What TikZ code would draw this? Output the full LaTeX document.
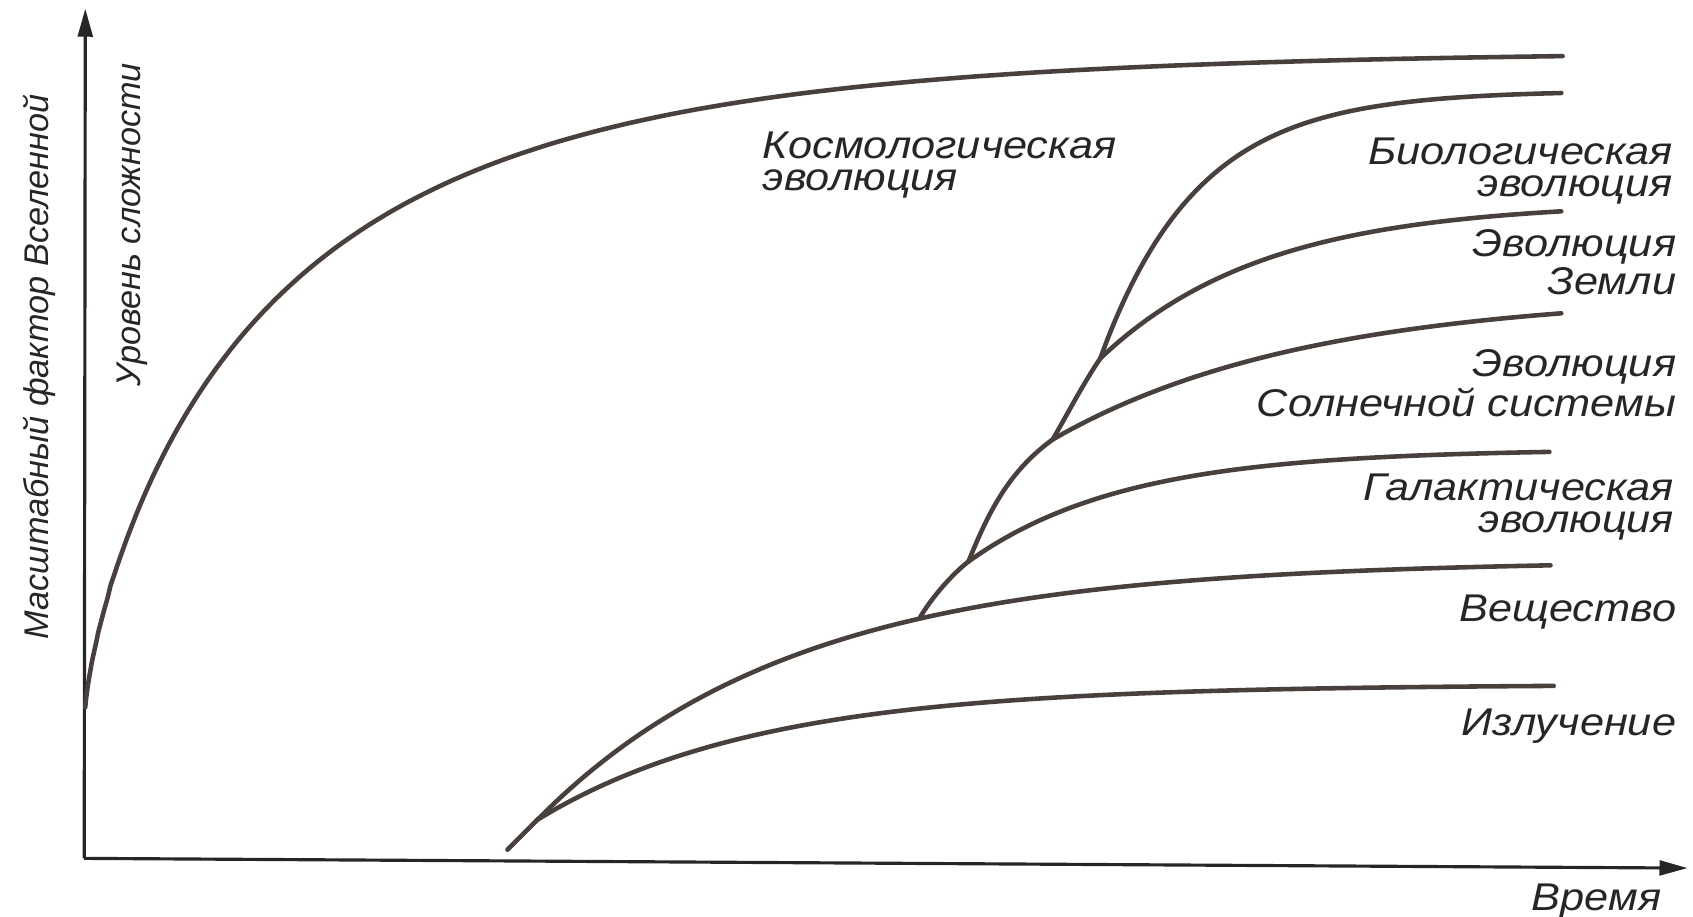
\documentclass[tikz,border=0pt]{standalone}
\usepackage{fontspec}
\setmainfont{Liberation Sans}
\newfontfamily\labelfont{Liberation Sans}[FakeStretch=1.12]
\usetikzlibrary{arrows.meta}

\definecolor{curvegray}{RGB}{72,64,61}
\definecolor{axisgray}{RGB}{40,37,37}

\begin{document}
\begin{tikzpicture}[
    x=0.10797mm, y=-0.10797mm,
    axis/.style={draw=axisgray, line width=0.9pt, -{Triangle[length=8pt, width=4.2pt]}},
    branch/.style={draw=curvegray, line width=1.3pt, line cap=round, line join=round},
    label/.style={font=\labelfont\itshape\fontsize{11}{9}\selectfont, text=black!85, inner sep=0pt},
    axlabel/.style={font=\fontsize{9.75}{12}\selectfont\itshape, text=black!85, inner sep=0pt, rotate=90, anchor=base}
]
\useasboundingbox (0,0) rectangle (1568,849);

% Axes
\coordinate (O) at (78,795);
\coordinate (ytip) at (79,8);
\coordinate (xtip) at (1563,804);
\draw[axis] (O) -- (ytip);
\draw[axis] (O) -- (xtip);

\node[axlabel] (scale_lbl) at (45,340) {Масштабный фактор Вселенной};
\node[axlabel] (level_lbl) at (130,208) {Уровень сложности};
\node[label, anchor=base west] (time_lbl) at (1418,843) {Время};

% Cosmological evolution
\draw[branch] plot[domain=0.05:36.99, samples=140, smooth]
    ({79+\x*\x}, {655-608*(1-exp(-1*pow(\x*\x/182.8,0.78)))});

% Junctions of the tree
\coordinate (s) at (470,787);
\coordinate (jr) at (498,759);
\coordinate (jm) at (852,572);
\coordinate (jg) at (897,520);
\coordinate (js) at (975,407);
\coordinate (je) at (1019,332);

% Trunk
\draw[branch] (s) -- (jr);
\draw[branch] (jm) .. controls (862,554.7) and (881.2,532.3) .. (jg);
\draw[branch] (jg) .. controls (915.7,473.6) and (934.5,436.4) .. (js);
\draw[branch] (js) .. controls (989.5,381.9) and (1002.8,356) .. (je);

% Branches (radiation, matter, galactic, solar, earth, biological)
\draw[branch] plot[domain=0:941, samples=60, smooth] ({498+\x}, {759-125*(1-exp(-\x/205))});
\draw[branch] plot[domain=0:938, samples=60, smooth] ({498+\x}, {759-240*(1-exp(-\x/237))});
\draw[branch] plot[domain=0:538, samples=50, smooth] ({897+\x}, {520-104*(1-exp(-\x/145))});
\draw[branch] plot[domain=0:471, samples=50, smooth] ({975+\x}, {407-135*(1-exp(-\x/235))});
\draw[branch] plot[domain=0:427, samples=50, smooth] ({1019+\x}, {332-145*(1-exp(-\x/152))});
\draw[branch] plot[domain=0:427, samples=60, smooth] ({1019+\x}, {332-248*(1-exp(-\x/90))});

% Labels
\node[label, anchor=base west, align=left] (cosmo_lbl) at (706,176) {Космологическая\\эволюция};
\node[label, anchor=base east, align=right] (bio_lbl) at (1550,182) {Биологическая\\эволюция};
\node[label, anchor=base east, align=right] (earth_lbl) at (1553,273) {Эволюция\\Земли};
\node[label, anchor=base east, align=right] (solar_lbl) at (1553,386) {Эволюция\\Солнечной системы};
\node[label, anchor=base east, align=right] (gal_lbl) at (1551,493) {Галактическая\\эволюция};
\node[label, anchor=base east] (matter_lbl) at (1553,576) {Вещество};
\node[label, anchor=base east] (rad_lbl) at (1553,681) {Излучение};

\end{tikzpicture}
\end{document}
